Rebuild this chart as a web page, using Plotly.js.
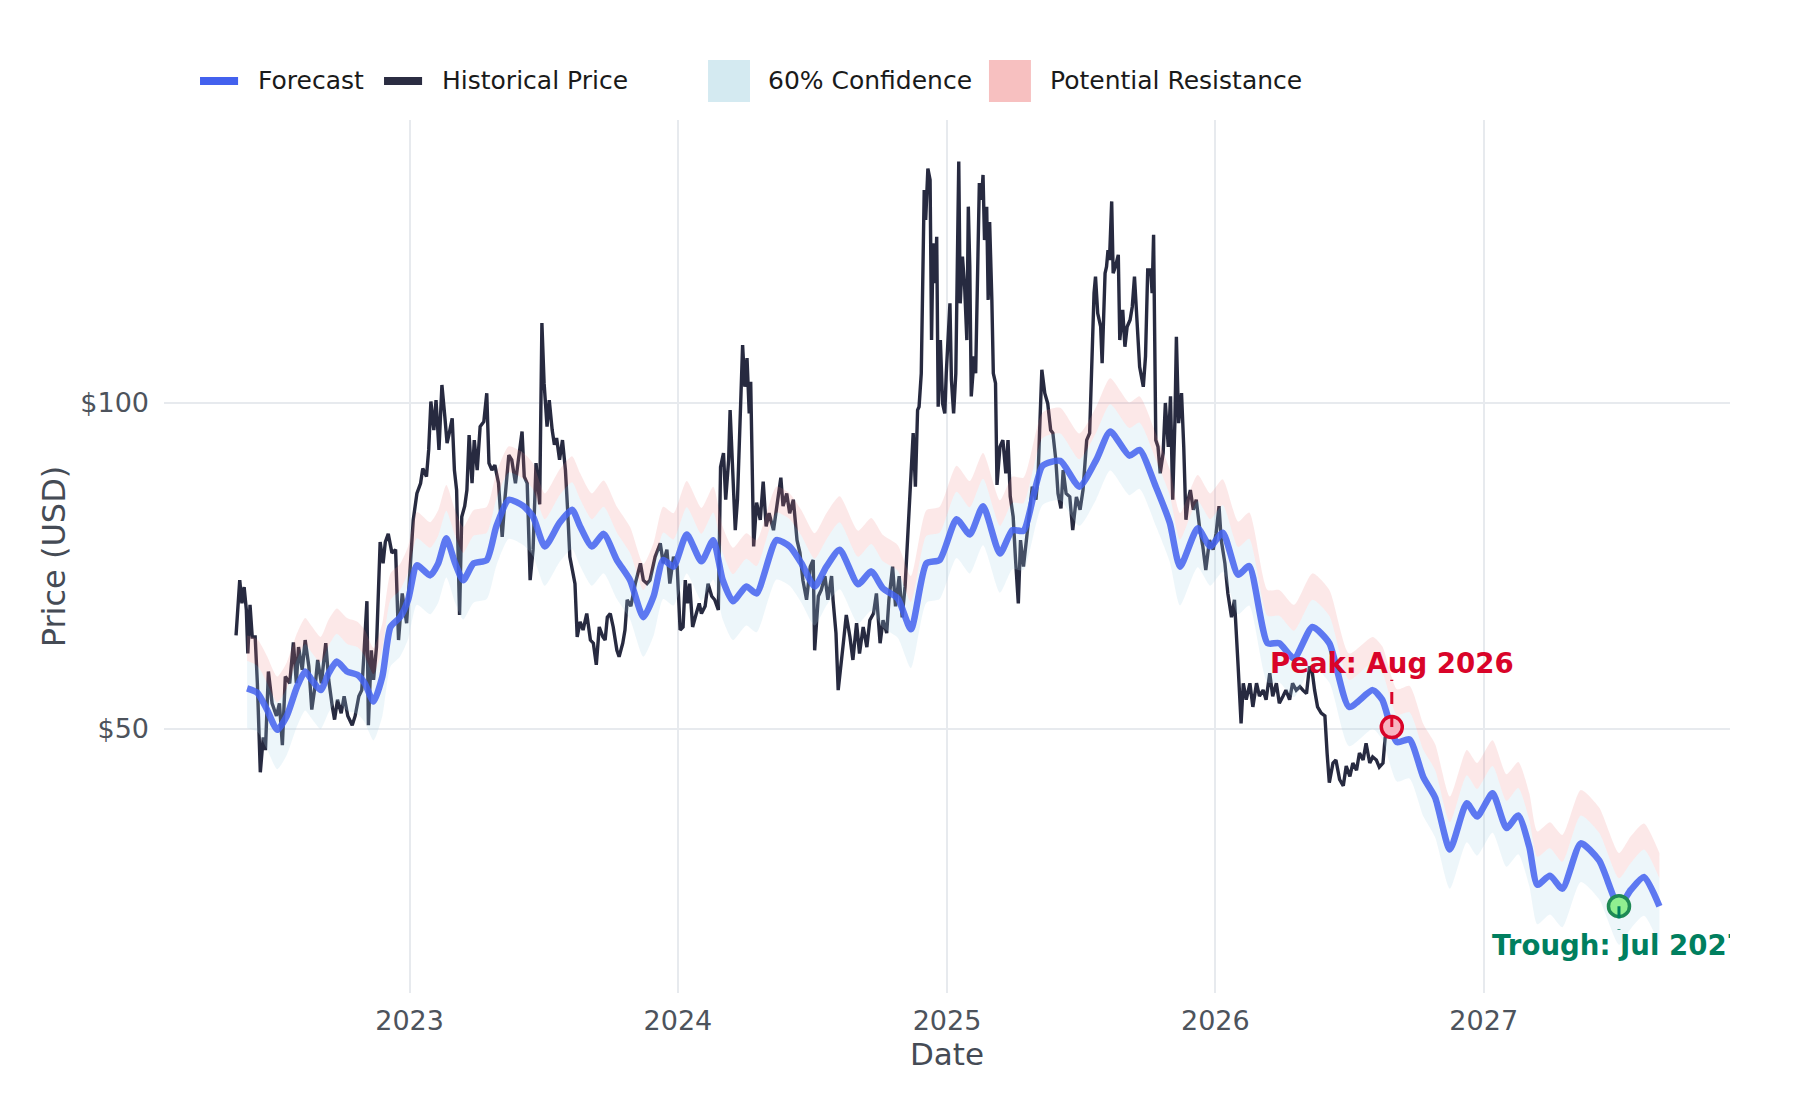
<!DOCTYPE html>
<html>
<head>
<meta charset="utf-8">
<script src="https://cdn.plot.ly/plotly-3.0.1.min.js"></script>
<style>
  html, body { margin: 0; padding: 0; background: #fff; }
  #chart { width: 1800px; height: 1100px; }
</style>
</head>
<body>
<div id="chart"></div>
<script>
// ─── Historical price (days counted from 2023-01-01) ───
const histDays = [
  -236, -235, -231, -228, -225, -222, -220, -217, -214, -210, -207, -203, -199, -196, -192, -187, -181, -177, -173, -169,
  -163, -158, -154, -151, -146, -142, -137, -133, -128, -125, -120, -114, -110, -105, -102, -98, -93, -89, -84, -78,
  -74, -69, -65, -62, -58, -56, -52, -49, -45, -40, -36, -33, -29, -24, -19, -15, -10, -4,
  1, 5, 10, 15, 18, 23, 26, 29, 33, 36, 40, 44, 48, 51, 54, 58, 61, 64, 68, 71,
  75, 78, 81, 85, 88, 92, 96, 101, 105, 108, 112, 116, 121, 126, 130, 135, 139, 144, 148, 153,
  156, 160, 164, 168, 172, 177, 180, 183, 187, 190, 194, 197, 200, 204, 208, 212, 215, 218, 225, 228,
  232, 236, 241, 246, 250, 254, 258, 263, 266, 269, 273, 277, 282, 285, 290, 293, 296, 301, 307, 314,
  318, 323, 327, 334, 341, 345, 350, 354, 359, 364, 368, 372, 375, 378, 381, 385, 390, 394,
  397, 402, 406, 411, 415, 420, 423, 427, 430, 434, 436, 440, 443, 446, 449, 453, 456, 459, 462, 464,
  468, 472, 477, 481, 485, 489, 495, 499, 505, 508, 513, 517, 522, 527, 531, 535, 540, 545, 549, 551,
  556, 560, 565, 569, 574, 576, 580, 583, 586, 590, 594, 599, 603, 608, 612, 617, 622, 626, 631, 635,
  640, 644, 649, 652, 657, 661, 666, 670, 674, 678, 681, 685, 688, 691, 693, 696, 700, 702, 705, 708,
  710, 712, 715, 717, 719, 722, 725, 728,
  730, 733, 735, 737, 740, 743, 745, 747, 749, 752, 755, 758, 760, 762, 764, 768, 770, 773, 775, 778,
  780, 782, 785, 787, 789, 792, 794, 797, 799, 803, 807, 811, 814, 817, 821, 824, 828, 831, 835, 839,
  843, 847, 852, 855, 857, 860, 864, 868, 872, 875, 879, 882, 886, 889, 893, 898, 902, 907, 912, 916,
  921, 925, 929, 931, 933, 936, 940, 942, 946, 948, 950, 952, 955, 957, 960, 964, 966, 970, 973, 976,
  980, 983, 986, 989, 993, 998, 1001, 1004, 1008, 1010, 1012, 1015, 1018, 1021, 1025, 1028, 1032, 1035, 1038, 1041,
  1043, 1046, 1050, 1053, 1056, 1059, 1062, 1066, 1070, 1075, 1079, 1083, 1088, 1093,
  1097, 1101, 1104, 1109, 1113, 1118, 1122, 1127, 1131, 1134, 1138, 1143, 1147, 1152, 1156, 1161, 1165, 1170, 1174, 1179,
  1183, 1188, 1192, 1197, 1201, 1206, 1211, 1215, 1220, 1224, 1228, 1231, 1235, 1240, 1245, 1248, 1251, 1256, 1260, 1265,
  1270, 1274, 1279, 1283, 1288, 1292, 1297, 1301, 1306, 1310, 1315, 1319, 1324, 1327, 1331
];
const histPrice = [
  61.0, 62.8, 68.6, 65.3, 67.6, 64.4, 58.7, 65.1, 60.8, 60.8, 55.1, 45.6, 49.1, 47.8, 56.5, 52.8, 51.4, 52.8, 48.3, 55.9,
  55.1, 60.1, 55.1, 59.5, 56.7, 60.4, 57.1, 52.1, 55.1, 57.9, 55.1, 60.0, 55.5, 52.4, 51.0, 53.2, 51.7, 53.6, 51.4, 50.4,
  51.4, 53.6, 54.3, 58.7, 65.6, 50.4, 59.1, 55.5, 59.5, 74.4, 71.1, 74.4, 75.7, 72.7, 73.2, 60.4, 66.7, 62.6,
  71.1, 78.0, 82.5, 84.3, 87.0, 85.5, 90.5, 100.3, 94.4, 100.6, 90.5, 103.9, 97.1, 91.8, 93.8, 96.8, 86.7, 83.1, 63.7, 78.5,
  80.3, 83.1, 93.4, 84.3, 92.4, 86.7, 95.1, 96.1, 102.1, 88.0, 86.7, 87.6, 84.3, 75.2, 82.0, 89.5, 88.6, 84.3, 88.6, 94.1,
  85.5, 84.3, 68.6, 73.2, 88.0, 80.6, 118.5, 104.3, 95.1, 100.6, 94.4, 91.5, 92.8, 88.6, 92.4, 86.7, 79.7, 72.1, 68.1, 60.8,
  62.8, 61.7, 63.9, 60.4, 60.0, 57.3, 62.1, 60.8, 60.4, 63.4, 63.9, 62.1, 59.1, 58.3, 60.0, 61.7, 65.8, 64.9, 68.1, 71.1,
  68.6, 68.1, 68.6, 72.1, 74.2, 71.1, 73.2, 68.1, 72.1, 70.6, 61.7, 62.1, 68.6, 65.3, 68.1, 62.1, 63.9, 65.3,
  63.9, 64.9, 68.1, 66.3, 65.8, 64.4, 87.3, 89.9, 81.4, 88.6, 98.5, 86.1, 76.3, 81.4, 93.8, 113.1, 103.5, 110.0, 97.8, 104.6,
  73.7, 80.9, 78.0, 84.6, 76.9, 79.1, 76.3, 79.7, 85.3, 80.3, 82.5, 79.1, 81.4, 74.7, 72.7, 68.6, 65.8, 70.6, 71.6, 59.1,
  66.3, 67.2, 69.2, 65.8, 69.2, 65.8, 61.3, 54.3, 57.1, 60.0, 63.7, 60.8, 57.9, 62.6, 58.7, 62.1, 59.5, 63.0, 63.9, 66.7,
  60.0, 63.0, 61.3, 65.8, 70.6, 64.9, 69.2, 63.4, 67.7, 75.7, 83.7, 93.8, 83.7, 98.5, 99.2, 106.5, 157.3, 147.6, 164.6, 160.7,
  114.3, 140.4, 129.0, 142.4, 99.2, 114.3, 99.9, 97.8,
  106.5, 117.6, 123.6, 105.0, 97.8, 106.5, 128.0, 167.1, 123.6, 136.5, 128.0, 114.3, 151.8, 133.6, 101.4, 110.4, 106.5, 132.7, 159.6, 154.0,
  162.4, 141.4, 151.8, 124.5, 146.9, 124.5, 106.5, 104.3, 84.0, 91.1, 92.4, 86.1, 92.4, 82.0, 78.5, 72.1, 65.3, 74.7, 70.6, 74.7,
  79.7, 83.7, 81.4, 86.1, 94.4, 107.3, 102.1, 99.9, 94.4, 93.8, 88.6, 82.5, 79.9, 86.7, 82.5, 81.9, 76.3, 81.9, 79.7, 83.1,
  92.4, 93.8, 114.3, 126.3, 130.8, 121.0, 117.6, 108.8, 131.8, 133.6, 138.4, 135.5, 153.5, 131.8, 133.6, 137.0, 114.3, 121.9, 112.7, 117.6,
  119.3, 122.7, 130.8, 121.0, 108.0, 103.5, 110.4, 132.7, 132.7, 126.3, 143.0, 92.4, 91.1, 86.1, 89.9, 100.0, 91.1, 101.4, 81.4, 96.4,
  115.1, 95.8, 102.1, 91.1, 78.0, 81.4, 83.1, 79.7, 81.4, 76.3, 73.7, 70.1, 74.7, 73.2,
  75.8, 80.3, 74.7, 71.1, 66.7, 63.4, 65.8, 57.1, 50.6, 55.1, 53.2, 55.1, 52.4, 55.1, 53.6, 54.3, 53.2, 56.3, 53.6, 55.1,
  52.8, 53.6, 54.3, 53.2, 55.1, 54.3, 54.7, 54.3, 53.9, 57.1, 56.3, 54.3, 52.4, 51.7, 51.4, 47.5, 44.6, 46.5, 46.8, 44.9,
  44.3, 46.2, 45.2, 46.5, 45.8, 47.5, 46.8, 48.5, 46.5, 47.1, 46.8, 46.1, 46.5, 49.1, 49.9
];

// ─── Forecast with bands ───
const fcDates = [
  '2022-05-25', '2022-06-08', '2022-06-21', '2022-07-05', '2022-07-18', '2022-08-01', '2022-08-12', '2022-08-21', '2022-09-02', '2022-09-13',
  '2022-09-24', '2022-10-08', '2022-10-22', '2022-11-01', '2022-11-13', '2022-11-25', '2022-12-06', '2022-12-19', '2022-12-30', '2023-01-11',
  '2023-01-29', '2023-02-09', '2023-02-20', '2023-03-04', '2023-03-15', '2023-03-29', '2023-04-16', '2023-04-29', '2023-05-16', '2023-06-05',
  '2023-06-18', '2023-07-04', '2023-07-24', '2023-08-10', '2023-08-21', '2023-09-06', '2023-09-22', '2023-10-10', '2023-10-28', '2023-11-15',
  '2023-11-29', '2023-12-12', '2023-12-26', '2024-01-13', '2024-02-02', '2024-02-18', '2024-03-02', '2024-03-16', '2024-04-03', '2024-04-17',
  '2024-05-14', '2024-06-01', '2024-06-17', '2024-07-05', '2024-07-21', '2024-08-08', '2024-09-02', '2024-09-20', '2024-10-06', '2024-10-26',
  '2024-11-13', '2024-12-04', '2024-12-22', '2025-01-14', '2025-02-01', '2025-02-19', '2025-03-14', '2025-03-31', '2025-04-15', '2025-05-11',
  '2025-06-04', '2025-06-30', '2025-07-23', '2025-08-11', '2025-09-06', '2025-09-20', '2025-10-12', '2025-10-31', '2025-11-14', '2025-12-08',
  '2025-12-25', '2026-01-11', '2026-02-01', '2026-02-16', '2026-03-13', '2026-03-29', '2026-04-18', '2026-05-13', '2026-06-05', '2026-07-02',
  '2026-08-03', '2026-08-16', '2026-09-05', '2026-09-22', '2026-10-11', '2026-10-27', '2026-11-16', '2026-12-09', '2026-12-23', '2027-01-13',
  '2027-02-01', '2027-02-17', '2027-03-04', '2027-03-15', '2027-04-01', '2027-04-18', '2027-05-13', '2027-06-07', '2027-07-04', '2027-07-20',
  '2027-08-07', '2027-08-28'
];
const fcPrice = [
  54.5, 54.0, 52.1, 49.9, 51.4, 54.7, 56.5, 55.5, 54.3, 56.3,
  57.7, 56.5, 56.1, 55.1, 53.0, 55.9, 62.1, 63.4, 65.8, 70.8,
  69.3, 71.1, 75.0, 71.1, 68.6, 71.1, 71.6, 76.9, 81.4, 80.3,
  78.5, 73.7, 77.5, 79.7, 76.9, 73.7, 75.7, 71.6, 68.6, 63.4,
  66.3, 71.6, 70.6, 75.6, 71.4, 74.7, 68.6, 65.6, 67.7, 66.7,
  74.7, 73.7, 71.1, 67.7, 70.6, 73.2, 68.0, 69.9, 67.4, 66.0,
  61.8, 71.1, 71.6, 78.1, 75.6, 80.3, 72.6, 76.3, 76.2, 87.5,
  88.4, 83.7, 88.6, 94.1, 89.4, 90.5, 83.7, 77.5, 70.6, 76.6,
  73.7, 75.9, 69.4, 70.7, 60.0, 60.0, 58.1, 62.1, 60.0, 52.4,
  54.3, 53.2, 48.6, 48.9, 45.1, 43.2, 38.7, 42.7, 41.5, 43.6,
  40.5, 41.6, 38.9, 35.9, 36.6, 35.6, 39.2, 37.8, 34.3, 35.5,
  36.5, 34.3
];
const confLow = [
  50.1, 49.7, 47.9, 45.9, 47.3, 50.3, 52.0, 51.1, 50.0, 51.8,
  53.1, 52.0, 51.6, 50.7, 48.8, 51.4, 57.1, 58.3, 60.5, 65.1,
  63.8, 65.4, 69.0, 65.4, 63.1, 65.4, 65.9, 70.7, 74.9, 73.9,
  72.2, 67.8, 71.3, 73.3, 70.7, 67.8, 69.6, 65.9, 63.1, 58.3,
  61.0, 65.9, 65.0, 69.6, 65.7, 68.7, 63.1, 60.4, 62.3, 61.4,
  68.7, 67.8, 65.4, 62.3, 65.0, 67.3, 62.6, 64.3, 62.0, 60.7,
  56.9, 65.4, 65.9, 71.9, 69.6, 73.9, 66.8, 70.2, 70.1, 80.5,
  81.3, 77.0, 81.5, 86.6, 82.2, 83.3, 77.0, 71.3, 65.0, 70.5,
  67.8, 69.8, 63.8, 65.0, 55.2, 55.2, 53.5, 57.1, 55.2, 48.2,
  50.0, 48.9, 44.7, 45.0, 41.5, 39.7, 35.6, 39.3, 38.2, 40.1,
  37.3, 38.3, 35.8, 33.0, 33.7, 32.8, 36.1, 34.8, 31.6, 32.7,
  33.6, 31.6
];
const confHigh = [
  57.8, 57.2, 55.2, 52.9, 54.5, 58.0, 59.9, 58.8, 57.6, 59.7,
  61.2, 59.9, 59.5, 58.4, 56.2, 59.3, 65.8, 67.2, 69.7, 75.0,
  73.5, 75.4, 79.5, 75.4, 72.7, 75.4, 75.9, 81.5, 86.3, 85.1,
  83.2, 78.1, 82.2, 84.5, 81.5, 78.1, 80.2, 75.9, 72.7, 67.2,
  70.3, 75.9, 74.8, 80.1, 75.7, 79.2, 72.7, 69.5, 71.8, 70.7,
  79.2, 78.1, 75.4, 71.8, 74.8, 77.6, 72.1, 74.1, 71.4, 70.0,
  65.5, 75.4, 75.9, 82.8, 80.1, 85.1, 77.0, 80.9, 80.8, 92.8,
  93.7, 88.7, 93.9, 99.7, 94.8, 95.9, 88.7, 82.2, 74.8, 81.2,
  78.1, 80.5, 73.6, 74.9, 63.6, 63.6, 61.6, 65.8, 63.6, 55.5,
  57.6, 56.4, 51.5, 51.8, 47.8, 45.8, 41.0, 45.3, 44.0, 46.2,
  42.9, 44.1, 41.2, 38.1, 38.8, 37.7, 41.6, 40.1, 36.4, 37.6,
  38.7, 36.4
];
const resistHigh = [
  61.0, 60.5, 58.4, 55.9, 57.6, 61.3, 63.3, 62.2, 60.8, 63.1,
  64.6, 63.3, 62.8, 61.7, 59.4, 62.6, 69.6, 71.0, 73.7, 79.3,
  77.6, 79.6, 84.0, 79.6, 76.8, 79.6, 80.2, 86.1, 91.2, 89.9,
  87.9, 82.5, 86.8, 89.3, 86.1, 82.5, 84.8, 80.2, 76.8, 71.0,
  74.3, 80.2, 79.1, 84.7, 80.0, 83.7, 76.8, 73.5, 75.8, 74.7,
  83.7, 82.5, 79.6, 75.8, 79.1, 82.0, 76.2, 78.3, 75.5, 73.9,
  69.2, 79.6, 80.2, 87.5, 84.7, 89.9, 81.3, 85.5, 85.3, 98.0,
  99.0, 93.7, 99.2, 105.4, 100.1, 101.4, 93.7, 86.8, 79.1, 85.8,
  82.5, 85.0, 77.7, 79.2, 67.2, 67.2, 65.1, 69.6, 67.2, 58.7,
  60.8, 59.6, 54.4, 54.8, 50.5, 48.4, 43.3, 47.8, 46.5, 48.8,
  45.4, 46.6, 43.6, 40.2, 41.0, 39.9, 43.9, 42.3, 38.4, 39.8,
  40.9, 38.4
];

// ─── Turning points ───
const peakDate = '2026-08-29';
const peakPrice = 50.2;
const peakLabel = 'Peak: Aug 2026';
const troughDate = '2027-07-04';
const troughPrice = 34.3;
const troughLabel = 'Trough: Jul 2027';

const FONT = 'DejaVu Sans, Verdana, sans-serif';
const RED = '#d90429';
const GREEN = '#007f5f';

const base = Date.UTC(2023, 0, 1);
const histDates = histDays.map((d) => new Date(base + d * 86400000).toISOString().slice(0, 10));

const traces = [
  {
    x: histDates, y: histPrice, mode: 'lines', name: 'Historical Price',
    line: { color: '#272a40', width: 3.4 },
  },
  {
    x: fcDates, y: confLow, mode: 'lines', name: 'conf low',
    line: { width: 0, shape: 'spline', smoothing: 0.6 },
  },
  {
    x: fcDates, y: confHigh, mode: 'lines', name: '60% Confidence',
    fill: 'tonexty', fillcolor: 'rgba(173,216,230,0.22)',
    line: { width: 0, shape: 'spline', smoothing: 0.6 },
  },
  {
    x: fcDates, y: resistHigh, mode: 'lines', name: 'Potential Resistance',
    fill: 'tonexty', fillcolor: 'rgba(240,128,128,0.18)',
    line: { width: 0, shape: 'spline', smoothing: 0.6 },
  },
  {
    x: fcDates, y: fcPrice, mode: 'lines', name: 'Forecast', opacity: 0.85,
    line: { color: '#4361ee', width: 6.5, shape: 'spline', smoothing: 0.6 },
  },
  // peak
  {
    x: [peakDate], y: [peakPrice], mode: 'markers',
    marker: { size: 21, color: '#f8b3c0', line: { color: RED, width: 3.5 } },
  },
  {
    x: [peakDate, peakDate], y: [peakPrice, 55.5], mode: 'lines',
    line: { color: RED, width: 3, dash: '12px,11px' },
  },
  {
    x: [peakDate], y: [57.1], mode: 'text', text: ['<b>' + peakLabel + '</b>'],
    textposition: 'middle center', textfont: { family: FONT, size: 27.6, color: RED },
  },
  // trough
  {
    x: [troughDate], y: [troughPrice], mode: 'markers',
    marker: { size: 21, color: '#90ee90', line: { color: '#1f8a55', width: 3.5 } },
  },
  {
    x: [troughDate, troughDate], y: [troughPrice, 32.6], mode: 'lines',
    line: { color: GREEN, width: 3, dash: '12px,11px' },
  },
  {
    x: [troughDate], y: [31.4], mode: 'text', text: ['<b>' + troughLabel + '</b>'],
    textposition: 'middle center', textfont: { family: FONT, size: 27.6, color: GREEN },
  },
];

// ─── Legend drawn in paper space ───
const legendY = 1.0447;
const legendText = (x, text) => ({
  xref: 'paper', yref: 'paper', x: x, y: legendY, xanchor: 'left', yanchor: 'middle',
  text: text, showarrow: false, font: { family: FONT, size: 25, color: '#1a1a1a' },
});
const legendLine = (x0, x1, color) => ({
  type: 'line', xref: 'paper', yref: 'paper', x0: x0, x1: x1, y0: legendY, y1: legendY,
  line: { color: color, width: 8 },
});
const legendBox = (x0, x1, color) => ({
  type: 'rect', xref: 'paper', yref: 'paper', x0: x0, x1: x1, y0: 1.0206, y1: 1.0687,
  fillcolor: color, line: { width: 0 },
});

const layout = {
  width: 1800,
  height: 1100,
  margin: { l: 164, r: 70, t: 120, b: 107 },
  paper_bgcolor: '#ffffff',
  plot_bgcolor: '#ffffff',
  showlegend: false,
  font: { family: FONT, color: '#4d535c' },
  xaxis: {
    type: 'date',
    range: ['2022-02-01', '2027-12-02'],
    tick0: '2023-01-01',
    dtick: 'M12',
    tickformat: '%Y',
    showgrid: true,
    gridcolor: '#e7eaee',
    gridwidth: 2,
    zeroline: false,
    showline: false,
    ticks: '',
    ticklabelstandoff: 9,
    tickfont: { family: FONT, size: 27, color: '#4d535c' },
    title: { text: 'Date', font: { family: FONT, size: 31, color: '#454b55' }, standoff: 4 },
  },
  yaxis: {
    type: 'log',
    range: [1.4551, 2.2613],
    tickvals: [50, 100],
    ticktext: ['$50', '$100'],
    showgrid: true,
    gridcolor: '#e7eaee',
    gridwidth: 2,
    zeroline: false,
    showline: false,
    ticks: '',
    ticklabelstandoff: 14,
    tickfont: { family: FONT, size: 27, color: '#4d535c' },
    title: { text: 'Price (USD)', font: { family: FONT, size: 32, color: '#454b55' }, standoff: 5 },
  },
  shapes: [
    legendLine(0.0230, 0.0473, '#4361ee'),
    legendLine(0.1405, 0.1648, '#2b2d42'),
    legendBox(0.3474, 0.3742, '#d4eaf1'),
    legendBox(0.5268, 0.5536, '#f7c0c0'),
  ],
  annotations: [
    legendText(0.0585, 'Forecast'),
    legendText(0.1760, 'Historical Price'),
    legendText(0.3845, '60% Confidence'),
    legendText(0.5645, 'Potential Resistance'),
  ],
};

Plotly.newPlot('chart', traces, layout, { displayModeBar: false, staticPlot: true });
</script>
</body>
</html>
